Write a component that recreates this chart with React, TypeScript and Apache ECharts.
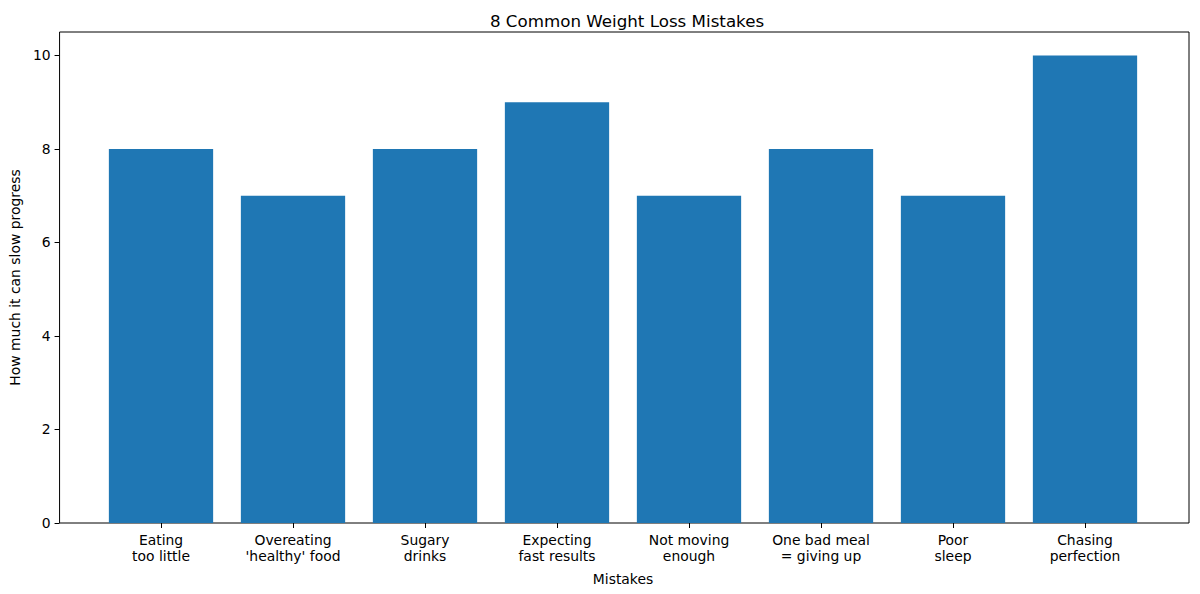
import React, { useEffect, useRef } from 'react';
import * as echarts from 'echarts';

const categories = [
    'Eating\ntoo little',
    "Overeating\n'healthy' food",
    'Sugary\ndrinks',
    'Expecting\nfast results',
    'Not moving\nenough',
    'One bad meal\n= giving up',
    'Poor\nsleep',
    'Chasing\nperfection',
];
const values = [8, 7, 8, 9, 7, 8, 7, 10];
const yTicks = [0, 2, 4, 6, 8, 10];

const FONT = 'DejaVu Sans';

const App = () => {
    const chartRef = useRef<HTMLDivElement>(null);

    useEffect(() => {
        document.body.style.margin = '0';
        const myChart = echarts.init(chartRef.current, null, { renderer: 'svg' });

        myChart.setOption({
            animation: false,
            title: {
                text: '8 Common Weight Loss Mistakes',
                left: 622,
                top: 7,
                textAlign: 'center',
                textStyle: { fontFamily: FONT, fontSize: 16.7, fontWeight: 'normal', color: '#000' },
            },
            grid: [
                // frame + y axis
                { left: 57, right: 11, top: 32, bottom: 71, show: true, borderColor: '#000', borderWidth: 1 },
                // bars: bands of 132px centred on 161 ... 1085
                { left: 95, right: 49, top: 32, bottom: 71 },
            ],
            xAxis: [
                { type: 'value', gridIndex: 0, show: false, min: 0, max: 1 },
                {
                    type: 'category',
                    gridIndex: 1,
                    data: categories,
                    axisLine: { show: false },
                    axisTick: { show: true, alignWithLabel: true, length: 5, lineStyle: { color: '#000' } },
                    axisLabel: {
                        fontFamily: FONT,
                        fontSize: 13.9,
                        color: '#000',
                        margin: 9,
                        lineHeight: 16,
                        interval: 0,
                    },
                    name: 'Mistakes',
                    nameLocation: 'middle',
                    nameGap: 49,
                    nameTextStyle: { fontFamily: FONT, fontSize: 13.9, color: '#000' },
                },
            ],
            yAxis: [
                {
                    type: 'value',
                    gridIndex: 0,
                    min: 0,
                    max: 10.5,
                    axisLine: { show: false },
                    splitLine: { show: false },
                    axisTick: {
                        show: true,
                        length: 5,
                        lineStyle: { color: '#000' },
                        customValues: yTicks,
                    },
                    axisLabel: {
                        fontFamily: FONT,
                        fontSize: 13.9,
                        color: '#000',
                        margin: 9,
                        customValues: yTicks,
                    },
                    name: 'How much it can slow progress',
                    nameLocation: 'middle',
                    nameGap: 32,
                    nameTextStyle: { fontFamily: FONT, fontSize: 13.9, color: '#000' },
                },
                { type: 'value', gridIndex: 1, min: 0, max: 10.5, show: false },
            ],
            series: [
                {
                    type: 'bar',
                    xAxisIndex: 1,
                    yAxisIndex: 1,
                    data: values,
                    barWidth: '79%',
                    itemStyle: { color: '#1f77b4' },
                },
            ],
        });

        return () => {
            myChart.dispose();
        };
    }, []);

    return <div ref={chartRef} style={{ width: '1200px', height: '594px' }} />;
};

export default App;
